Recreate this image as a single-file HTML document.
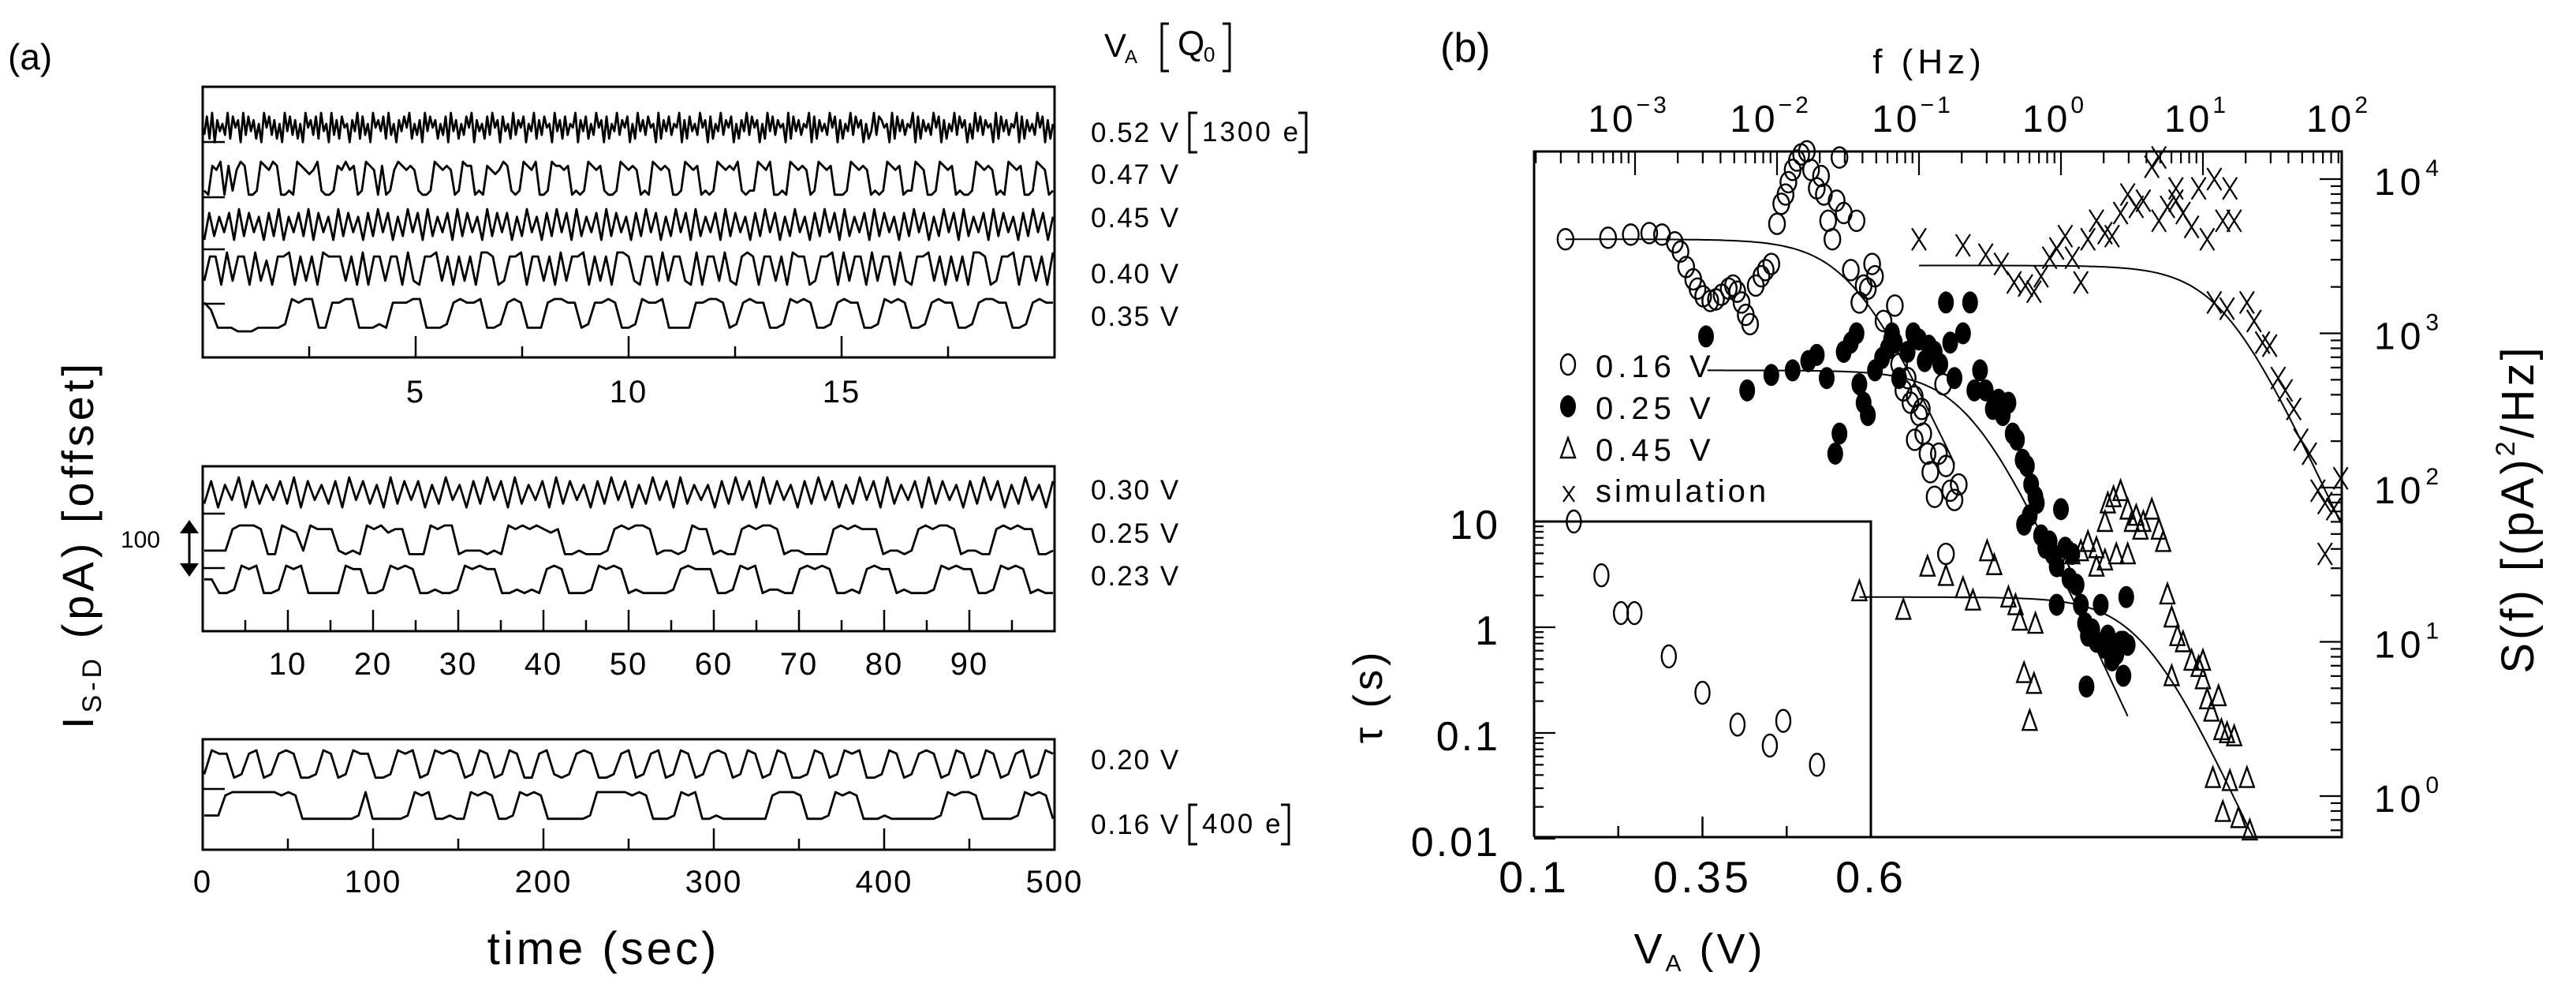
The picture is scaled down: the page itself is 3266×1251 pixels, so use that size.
<!DOCTYPE html>
<html><head><meta charset="utf-8"><style>
html,body{margin:0;padding:0;background:#fff;}
svg{display:block;font-family:"Liberation Sans",sans-serif;}
text{fill:#000;}
</style></head><body>
<svg id="fig" width="3266" height="1251" viewBox="0 0 3266 1251" xmlns="http://www.w3.org/2000/svg">
<rect x="0" y="0" width="3266" height="1251" fill="#fff"/>
<g id="pa"></g>
<g id="pb"></g>
</svg>
<script>
// ---------- Panel (a) data ----------
const traceLabels = ["0.52 V","0.47 V","0.45 V","0.40 V","0.35 V","0.30 V","0.25 V","0.23 V","0.20 V","0.16 V"];
const trace52 = "3829174639285719384726195837261948372619573829461937285617492836195748293617485926371948572638194726385917462839571846293758164927385619472836591748263957182649375816294738561927483659172846395718264937581627493857162948375619284736591827463958172649385716249387561928473659182746395817264938571629483756192847365918274639581726";
const trace47 = "2187918279811298798112198767921128797812987181279878721129878712988121876798212987911298878121298782112987871219878711298781212987879212298791121987871298781112987871212987812298711298781211298787121987811298712";
const trace45 = "1827381928371829173829183719283718293817293819273819283719283817293718293819273819283718293817293819273819283718293817293718293819273819283718293817293819273819283718293817";
const trace40 = "2881928819271889182819888281918828819218892818281998128891882819288918281998218819288219188292189818828198812889192881928819218892818281998128891882819";
const trace35 = "8611100011112989911889911121888991112898891128981118998812889811298891111889981289881129898112898811298981128988112899881128988";
const trace30 = "2817391827382918372819382719283817293718293819273819283718293817293819273718293819283718293817293819273819283718293817293718";
const trace25 = "2222899981198729888212198978811198991222121989898781121112898998122129881211898998122111189898881221289899812211898988112";
const trace23 = "5511298911298911111988112989811211298988112121898111298981211112898881129891221189898112189881211129898811298981211";
const trace20 = "2988128912898112981298811298912989812981298118921289811289128912981289812981298112981298911298128981298129812891298";
const trace16 = "22289999999898111111112911111298911211989811298981111112999998981112989112111111189998111298981112111111129899811111298981";
const traceSeries = [trace52,trace47,trace45,trace40,trace35,trace30,trace25,trace23,trace20,trace16];
const topTicks = [5,10,15];
const midTicks = [10,20,30,40,50,60,70,80,90];
const botTicks = [0,100,200,300,400,500];

// ---------- Panel (b) data ----------
const fTicks = [-3,-2,-1,0,1,2];
const sTicks = [0,1,2,3,4];
const tauTicks = [1,0,-1,-2];
const tauTickLabels = ["10","1","0.1","0.01"];
const vTicks = [0.1,0.35,0.6];
const legendLabels = ["0.16 V","0.25 V","0.45 V","simulation"];
const c16F = [-3.49,-3.19,-3.03,-2.90,-2.81,-2.72,-2.68,-2.64,-2.59,-2.56,-2.52,-2.47,-2.43,-2.39,-2.34,-2.31,-2.28,-2.25,-2.22,-2.19,-2.15,-2.11,-2.08,-2.04,-2.00,-1.97,-1.94,-1.92,-1.89,-1.86,-1.83,-1.79,-1.76,-1.72,-1.69,-1.67,-1.64,-1.61,-1.58,-1.56,-1.53,-1.48,-1.44,-1.42,-1.39,-1.36,-1.33,-1.31,-1.25,-1.19,-1.17,-1.14,-1.11,-1.08,-1.06,-1.03,-1.00,-0.97,-0.94,-0.92,-0.89,-0.86,-0.83,-0.81,-0.78,-0.75,-0.72,-1.03,-0.98,-0.81];
const c16S = [3.61,3.62,3.64,3.65,3.64,3.59,3.53,3.43,3.35,3.29,3.24,3.21,3.22,3.25,3.29,3.31,3.27,3.20,3.12,3.06,3.31,3.37,3.41,3.45,3.71,3.84,3.90,3.98,4.06,4.12,4.16,4.18,4.06,3.94,4.02,3.90,3.73,3.61,3.86,4.14,3.78,3.41,3.73,3.20,3.31,3.29,3.45,3.37,3.08,2.96,3.18,2.80,2.63,2.71,2.55,2.59,2.47,2.35,2.22,2.10,1.94,2.22,2.67,2.14,1.98,1.92,2.02,2.31,2.51,1.57];
const c25F = [-2.50,-2.21,-2.04,-1.89,-1.78,-1.72,-1.65,-1.59,-1.56,-1.53,-1.48,-1.44,-1.42,-1.39,-1.36,-1.31,-1.26,-1.22,-1.19,-1.17,-1.14,-1.08,-1.04,-1.00,-0.96,-0.93,-0.89,-0.85,-0.81,-0.78,-0.75,-0.69,-0.64,-0.61,-0.57,-0.53,-0.48,-0.44,-0.41,-0.37,-0.34,-0.31,-0.27,-0.24,-0.21,-0.18,-0.26,-0.22,-0.17,-0.14,-0.11,-0.08,-0.06,-0.03,0.00,0.03,0.06,0.08,0.11,0.14,0.17,0.19,0.22,0.25,0.28,0.31,0.33,0.36,0.39,0.42,0.44,0.46,0.47,0.44,0.18,-0.03];
const c25S = [2.98,2.63,2.73,2.76,2.82,2.86,2.71,2.22,2.35,2.88,2.94,3.00,2.67,2.55,2.47,2.76,2.84,2.90,3.00,2.94,2.71,2.88,3.00,2.96,2.82,2.92,2.88,2.80,3.20,2.94,2.71,3.00,3.20,2.63,2.76,2.63,2.51,2.57,2.47,2.55,2.35,2.31,2.18,2.14,2.02,1.94,1.76,1.82,1.90,1.69,1.61,1.65,1.57,1.49,1.86,1.61,1.41,1.57,1.37,1.24,1.12,1.04,1.08,1.00,1.24,0.96,1.04,0.88,0.92,1.00,1.00,1.29,0.98,0.78,0.71,1.24];
const c45F = [-1.42,-1.11,-0.94,-0.81,-0.69,-0.62,-0.52,-0.47,-0.37,-0.32,-0.29,-0.18,-0.26,-0.19,-0.22,0.03,0.08,0.14,0.19,0.25,0.31,0.33,0.37,0.42,0.47,0.50,0.53,0.56,0.58,0.64,0.69,0.72,0.31,0.39,0.47,0.25,0.75,0.78,0.82,0.86,0.92,0.97,1.00,1.03,1.06,1.11,1.13,1.17,1.22,1.07,1.19,1.31,1.14,1.25,1.33,1.00,0.78];
const c45S = [1.33,1.21,1.49,1.43,1.35,1.27,1.59,1.50,1.29,1.24,1.14,1.12,0.80,0.73,0.49,1.49,1.57,1.59,1.65,1.61,1.78,1.90,1.94,1.98,1.86,1.78,1.82,1.73,1.78,1.86,1.73,1.65,1.53,1.57,1.57,1.49,1.31,1.16,1.04,1.00,0.88,0.84,0.76,0.63,0.55,0.65,0.43,0.41,0.39,0.12,0.10,0.12,-0.10,-0.14,-0.22,0.88,0.78];
const simF = [-1.00,-0.69,-0.53,-0.42,-0.33,-0.25,-0.19,-0.14,-0.08,-0.03,0.03,0.08,0.14,0.19,0.25,0.31,0.36,0.42,0.47,0.53,0.58,0.64,0.69,0.75,0.81,0.86,0.92,0.97,1.03,1.08,1.14,1.19,1.22,0.69,0.81,1.08,1.17,1.31,1.36,1.42,1.47,1.53,1.58,1.64,1.69,1.75,1.81,1.86,1.92,1.97,1.86];
const simS = [3.61,3.57,3.51,3.45,3.33,3.31,3.27,3.37,3.49,3.55,3.63,3.49,3.33,3.61,3.73,3.65,3.63,3.78,3.90,3.82,3.86,4.08,4.14,3.82,3.86,3.78,3.69,3.94,3.61,4.00,3.73,3.94,3.73,3.73,3.94,3.20,3.16,3.20,3.08,2.94,2.92,2.71,2.63,2.51,2.31,2.22,1.98,1.90,1.86,2.06,1.57];
const fitS0 = [3.61,2.76,1.29,3.44];
const fitFc = [-1.47,-0.65,0.58,1.14];
const fitFrom = [-3.49,-2.49,-1.42,-1.00];
const fitTo = [-0.75,0.47,1.45,1.97];
const insetV = [0.159,0.20,0.229,0.249,0.30,0.35,0.402,0.45,0.47,0.52];
const insetTau = [10,3.1,1.36,1.36,0.53,0.24,0.12,0.076,0.13,0.05];

const NS="http://www.w3.org/2000/svg";
function mk(parent,tag,attrs,txt){const e=document.createElementNS(NS,tag);for(const k in attrs)e.setAttribute(k,attrs[k]);if(txt!==undefined)e.textContent=txt;parent.appendChild(e);return e;}
const pa=document.getElementById('pa');
const pb=document.getElementById('pb');

// ---------- Panel (a) ----------
let t;
t=mk(pa,'text',{x:10,y:88,'font-size':46},"(a)");



const AX0=257, AX1=1337;
const boxes=[{y0:110,y1:453,max:20,ticks:topTicks,minor:2.5,major:5,labY:510},
             {y0:591,y1:800,max:100,ticks:midTicks,minor:5,major:10,labY:855},
             {y0:937,y1:1077,max:500,ticks:botTicks,minor:50,major:100,labY:1131}];
const boxNames=['top-trace-box','middle-trace-box','bottom-trace-box'];
boxes.forEach((b,i)=>{
  const r=mk(pa,'rect',{x:AX0,y:b.y0,width:AX1-AX0,height:b.y1-b.y0,fill:'none',stroke:'#000','stroke-width':3});
  
  
  const sx=v=>AX0+v/b.max*(AX1-AX0);
  for(let v=b.minor;v<b.max-1e-9;v+=b.minor){
    const isMaj=Math.abs(v/b.major-Math.round(v/b.major))<1e-6;
    const tk=mk(pa,'line',{x1:sx(v),x2:sx(v),y1:b.y1,y2:b.y1-(isMaj?27:14),stroke:'#000','stroke-width':2.5});
    
    
  }
  b.ticks.forEach(v=>{
    const l=mk(pa,'text',{x:sx(v),y:b.labY,'font-size':40,'text-anchor':'middle','letter-spacing':2},String(v));
    
    
  });
});

const bands=[[143,185],[205,252],[265,309],[320,366],[379,420],[605,648],[666,707],[717,756],[951,990],[1004,1042]];
const labBase=[180,233,288,359,413,633,688,742,975,1057];
const offsetMarks=[180,250,316,385,651,720,1000];
traceSeries.forEach((s,i)=>{
  const vals=s.split('').map(Number);
  const n=vals.length;
  const [yh,yl]=bands[i];
  const pts=vals.map((v,k)=>{
    const x=AX0+2+k*(AX1-AX0-4)/(n-1);
    const y=yl-(v/9)*(yl-yh);
    return x.toFixed(1)+','+y.toFixed(1);
  }).join(' ');
  const p=mk(pa,'polyline',{points:pts,fill:'none',stroke:'#000','stroke-width':2.8,'stroke-linejoin':'round'});
  
  
  const lb=mk(pa,'text',{x:1383,y:labBase[i],'font-size':35,'letter-spacing':2},traceLabels[i]);
  
  
});
offsetMarks.forEach(y=>{
  const m=mk(pa,'line',{x1:AX0,x2:AX0+28,y1:y,y2:y,stroke:'#000','stroke-width':2.5});
  
  
});
function bracketLabel(x,yTop,yBot,txt,name){
  const g=mk(pa,'g',{});
  
  
  mk(g,'path',{d:`M${x+10},${yTop} H${x} V${yBot} H${x+10}`,fill:'none',stroke:'#000','stroke-width':3});
  mk(g,'text',{x:x+16,y:yBot-14,'font-size':35,'letter-spacing':3},txt);
  const w=txt.length*22+16;
  mk(g,'path',{d:`M${x+w-10},${yTop} H${x+w} V${yBot} H${x+w-10}`,fill:'none',stroke:'#000','stroke-width':3});
}
bracketLabel(1508,143,193,"1300 e","charge-1300e");
bracketLabel(1508,1020,1070,"400 e","charge-400e");
const hd=mk(pa,'g',{});


mk(hd,'text',{x:1400,y:72,'font-size':42},"V");
mk(hd,'text',{x:1426,y:80,'font-size':24},"A");
mk(hd,'path',{d:"M1482,30 H1473 V90 H1482",fill:'none',stroke:'#000','stroke-width':3});
mk(hd,'text',{x:1493,y:70,'font-size':44},"Q");
mk(hd,'text',{x:1526,y:78,'font-size':26},"0");
mk(hd,'path',{d:"M1550,30 H1559 V90 H1550",fill:'none',stroke:'#000','stroke-width':3});
const sb=mk(pa,'g',{});


mk(sb,'text',{x:153,y:694,'font-size':30},"100");
mk(sb,'line',{x1:240,x2:240,y1:668,y2:722,stroke:'#000','stroke-width':3});
mk(sb,'path',{d:"M228,676 L240,659 L252,676 Z M228,714 L240,731 L252,714 Z",fill:'#000'});
const yt=mk(pa,'text',{transform:'translate(118,690) rotate(-90)','font-size':56,'text-anchor':'middle','letter-spacing':5});


mk(yt,'tspan',{},"I");
mk(yt,'tspan',{'font-size':34,dy:10},"S-D");
mk(yt,'tspan',{dy:-10},"  (pA)   [offset]");
t=mk(pa,'text',{x:765,y:1222,'font-size':58,'text-anchor':'middle','letter-spacing':4},"time (sec)");



// ---------- Panel (b) ----------
const BX0=1945,BX1=2969,BY0=192,BY1=1061;
const fx=lf=>2073+(lf+3)*180;
const sy=ls=>227+(4-ls)*195.5;
const ix=v=>BX0+(v-0.1)/0.5*427;
const iy=tau=>795-Math.log10(tau)*134;

t=mk(pb,'text',{x:1826,y:78,'font-size':52},"(b)");



let fr=mk(pb,'path',{d:`M${BX0},${BY1} V${BY0} H${BX1} V${BY1} H${BX0}`,fill:'none',stroke:'#000','stroke-width':3});


for(let d=-4;d<=2;d++){
  for(let m=1;m<10;m++){
    const x=fx(d+Math.log10(m));
    if(x<BX0+2||x>BX1-2)continue;
    const tk=mk(pb,'line',{x1:x,x2:x,y1:BY0,y2:BY0+(m===1?30:15),stroke:'#000','stroke-width':2.2});
    
    
  }
}
fTicks.forEach(d=>{
  const g=mk(pb,'text',{x:fx(d)-8,y:167,'font-size':48,'text-anchor':'middle','letter-spacing':4});
  
  
  mk(g,'tspan',{},"10");
  mk(g,'tspan',{'font-size':30,dy:-24},String(d).replace('-','\u2212'));
});
t=mk(pb,'text',{x:2446,y:93,'font-size':44,'text-anchor':'middle','letter-spacing':6},"f (Hz)");


for(let d=-1;d<=4;d++){
  for(let m=1;m<10;m++){
    const y=sy(d+Math.log10(m));
    if(y<BY0+2||y>BY1-2)continue;
    const tk=mk(pb,'line',{x1:BX1,x2:BX1-(m===1?28:14),y1:y,y2:y,stroke:'#000','stroke-width':2.2});
    
    
  }
}
sTicks.forEach(d=>{
  const g=mk(pb,'text',{x:3010,y:sy(d)+20,'font-size':48,'letter-spacing':6});
  
  
  mk(g,'tspan',{},"10");
  mk(g,'tspan',{'font-size':30,dy:-24},String(d));
});
const st=mk(pb,'text',{transform:'translate(3212,645) rotate(-90)','font-size':58,'text-anchor':'middle','letter-spacing':4});


mk(st,'tspan',{},"S(f)  [(pA)");
mk(st,'tspan',{'font-size':34,dy:-24},"2");
mk(st,'tspan',{dy:24},"/Hz]");

fr=mk(pb,'path',{d:`M${BX0},${iy(10)} H${ix(0.6)} V${BY1}`,fill:'none',stroke:'#000','stroke-width':3});


for(let d=-2;d<=0;d++){
  for(let m=1;m<10;m++){
    const y=iy(m*Math.pow(10,d));
    const tk=mk(pb,'line',{x1:BX0,x2:BX0+(m===1?27:12),y1:y,y2:y,stroke:'#000','stroke-width':2.2});
    
    
  }
}
tauTicks.forEach((d,i)=>{
  const l=mk(pb,'text',{x:1902,y:iy(Math.pow(10,d))+22,'font-size':52,'text-anchor':'end','letter-spacing':3},tauTickLabels[i]);
  
  
});
[0.225,0.35,0.475].forEach(v=>{
  const tk=mk(pb,'line',{x1:ix(v),x2:ix(v),y1:BY1,y2:BY1-(v===0.35?26:14),stroke:'#000','stroke-width':2.5});
  
  
});
vTicks.forEach(v=>{
  const l=mk(pb,'text',{x:ix(v),y:1131,'font-size':56,'text-anchor':'middle','letter-spacing':4},String(v));
  
  
});
const vt=mk(pb,'text',{x:2155,y:1221,'font-size':54,'text-anchor':'middle','letter-spacing':4});


mk(vt,'tspan',{},"V");
mk(vt,'tspan',{'font-size':30,dy:10},"A");
mk(vt,'tspan',{dy:-10}," (V)");
t=mk(pb,'text',{transform:'translate(1752,882) rotate(-90)','font-size':52,'text-anchor':'middle','letter-spacing':5},"\u03c4 (s)");



fitS0.forEach((s0,i)=>{
  const pts=[];
  for(let k=0;k<=120;k++){
    const lf=fitFrom[i]+(fitTo[i]-fitFrom[i])*k/120;
    const ls=s0-Math.log10(1+Math.pow(10,2*(lf-fitFc[i])));
    let y=sy(ls); if(y>BY1){y=BY1;}
    pts.push(fx(lf).toFixed(1)+','+y.toFixed(1));
  }
  const p=mk(pb,'polyline',{points:pts.join(' '),fill:'none',stroke:'#000','stroke-width':2});
  
  
});
function openCircle(g,x,y,rx,ry){mk(g,'ellipse',{cx:x,cy:y,rx:rx,ry:ry,fill:'none',stroke:'#000','stroke-width':2.4});}
function filledCircle(g,x,y){mk(g,'ellipse',{cx:x,cy:y,rx:10,ry:14,fill:'#000'});}
function tri(g,x,y){mk(g,'path',{d:`M${x},${y-13} L${x+9},${y+12} L${x-9},${y+12} Z`,fill:'none',stroke:'#000','stroke-width':2.4});}
function cross(g,x,y){mk(g,'path',{d:`M${x-9},${y-14} L${x+9},${y+14} M${x+9},${y-14} L${x-9},${y+14}`,fill:'none',stroke:'#000','stroke-width':2.2});}
const gs=[];
['series-0p16v','series-0p25v','series-0p45v','series-simulation','inset-tau-points'].forEach(n=>{
  const g=mk(pb,'g',{});
  
  
  gs.push(g);
});
c16F.forEach((f,i)=>openCircle(gs[0],fx(f),sy(c16S[i]),10,13));
c25F.forEach((f,i)=>filledCircle(gs[1],fx(f),sy(c25S[i])));
c45F.forEach((f,i)=>tri(gs[2],fx(f),sy(c45S[i])));
simF.forEach((f,i)=>cross(gs[3],fx(f),sy(simS[i])));
insetV.forEach((v,i)=>openCircle(gs[4],ix(v),iy(insetTau[i]),9,14));

const lg=mk(pb,'g',{});


const legY=[462,515,568,622];
openCircle(lg,1988,legY[0],9,13);
filledCircle(lg,1988,legY[1]);
tri(lg,1988,legY[2]);
mk(lg,'path',{d:`M1982,${legY[3]-6} L1996,${legY[3]+14} M1996,${legY[3]-6} L1982,${legY[3]+14}`,fill:'none',stroke:'#000','stroke-width':2.2});
legendLabels.forEach((s,i)=>{
  const l=mk(lg,'text',{x:2023,y:legY[i]+(i===3?14:16),'font-size':40,'letter-spacing':(i===3?4:6)},s);
  
  
});
</script>
</body></html>
